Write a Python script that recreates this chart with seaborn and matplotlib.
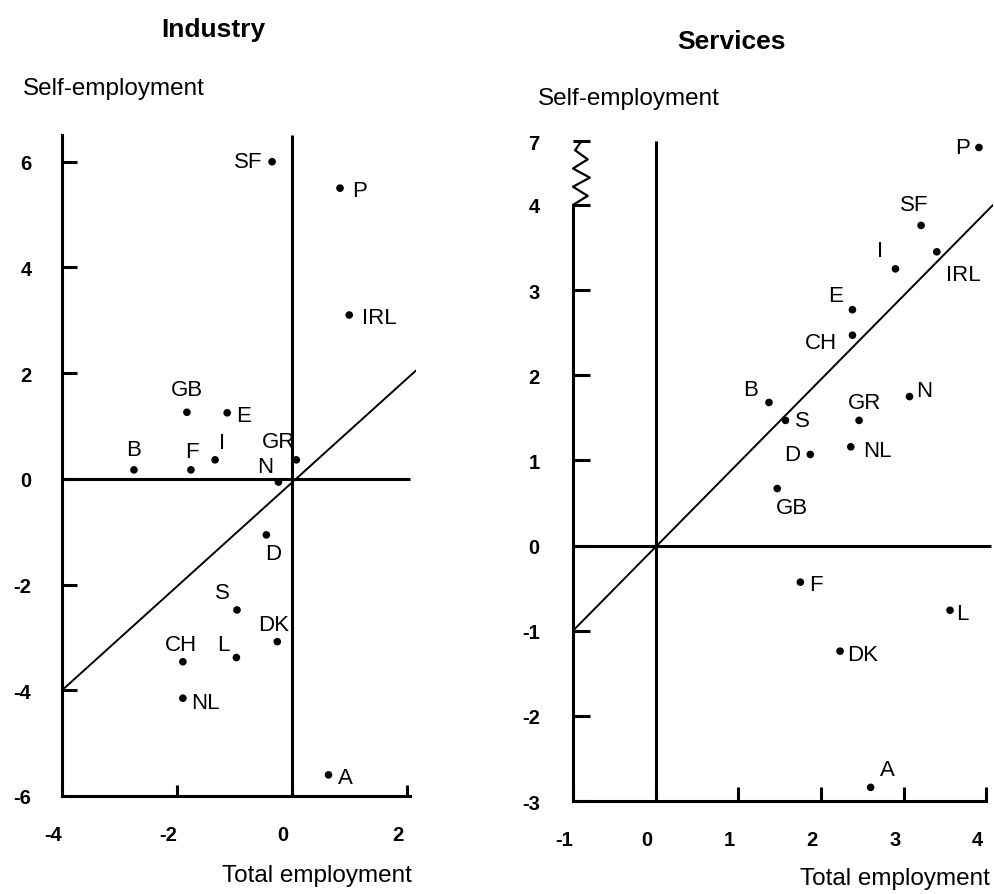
import numpy as np
import pandas as pd
import matplotlib
matplotlib.use("Agg")
import matplotlib.pyplot as plt
import seaborn as sns
from matplotlib.transforms import ScaledTranslation

# ---------------- data ----------------
ind_countries = ["SF", "P", "IRL", "GB", "E", "B", "F", "I", "GR", "N",
                 "D", "S", "DK", "CH", "L", "NL", "A"]
ind_total = [-0.35, 0.83, 0.99, -1.83, -1.13, -2.75, -1.76, -1.34, 0.07, -0.24,
             -0.45, -0.96, -0.26, -1.90, -0.97, -1.90, 0.63]
ind_self = [6.00, 5.50, 3.10, 1.26, 1.25, 0.17, 0.17, 0.36, 0.36, -0.06,
            -1.06, -2.48, -3.08, -3.46, -3.38, -4.15, -5.60]

srv_countries = ["P", "SF", "IRL", "I", "E", "CH", "B", "S", "GR", "N",
                 "NL", "D", "GB", "F", "L", "DK", "A"]
srv_total = [3.91, 3.21, 3.40, 2.90, 2.38, 2.38, 1.37, 1.57, 2.46, 3.07,
             2.36, 1.87, 1.47, 1.75, 3.56, 2.23, 2.60]
srv_self = [6.70, 3.76, 3.45, 3.25, 2.77, 2.47, 1.68, 1.47, 1.47, 1.75,
            1.16, 1.07, 0.67, -0.43, -0.76, -1.24, -2.84]

ind_xticks = [-4, -2, 0, 2]
ind_yticks = [-6, -4, -2, 0, 2, 4, 6]
srv_xticks = [-1, 0, 1, 2, 3, 4]
srv_yticks = [-3, -2, -1, 0, 1, 2, 3, 4, 7]

# label offsets (pixels) and alignment
ind_lab = {
    "SF": (-10, 0, "right", "center"), "P": (12, -2, "left", "center"),
    "IRL": (13, -3, "left", "center"), "GB": (0, 12, "center", "bottom"),
    "E": (9, -3, "left", "center"), "B": (0, 10, "center", "bottom"),
    "F": (1, 8, "center", "bottom"), "I": (7, 7, "center", "bottom"),
    "GR": (-18, 8, "center", "bottom"), "N": (-13, 5, "center", "bottom"),
    "D": (7, -8, "center", "top"), "S": (-15, 7, "center", "bottom"),
    "DK": (-4, 7, "center", "bottom"), "CH": (-2, 7, "center", "bottom"),
    "L": (-13, 3, "center", "bottom"), "NL": (8, -4, "left", "center"),
    "A": (9, -3, "left", "center"),
}
srv_lab = {
    "P": (-9, 0, "right", "center"), "SF": (-7, 10, "center", "bottom"),
    "IRL": (9, -23, "left", "center"), "I": (-15, 8, "center", "bottom"),
    "E": (-17, 4, "center", "bottom"), "CH": (-15, -7, "right", "center"),
    "B": (-18, 3, "center", "bottom"), "S": (9, 0, "left", "center"),
    "GR": (5, 7, "center", "bottom"), "N": (7, 6, "left", "center"),
    "NL": (12, -4, "left", "center"), "D": (-10, 0, "right", "center"),
    "GB": (15, -8, "center", "top"), "F": (9, -2, "left", "center"),
    "L": (6, -3, "left", "center"), "DK": (7, -3, "left", "center"),
    "A": (17, 7, "center", "bottom"),
}

# ---------------- style ----------------
sns.set_style("white")
plt.rcParams["font.family"] = ["Liberation Sans", "DejaVu Sans"]
plt.rcParams["axes.unicode_minus"] = False
for key in ["text.color", "axes.labelcolor", "xtick.color", "ytick.color",
            "axes.edgecolor"]:
    plt.rcParams[key] = "black"

W, H = 994, 895
fig = plt.figure(figsize=(W / 100, H / 100), dpi=100)

LW = 2.2
TICKFS = 14.5
LABFS = 16


def frame(ax, xlo, xhi, ylo, yhi):
    for s in ["top", "right"]:
        ax.spines[s].set_visible(False)
    for s in ["left", "bottom"]:
        ax.spines[s].set_linewidth(LW)
        ax.spines[s].set_color("black")
    ax.spines["left"].set_bounds(ylo, yhi)
    ax.spines["bottom"].set_bounds(xlo, xhi)


def shift_xlabels(ax, dx_px):
    off = ScaledTranslation(dx_px / 100.0, 0, fig.dpi_scale_trans)
    for t in ax.xaxis.get_major_ticks():
        t.label1.set_transform(t.label1.get_transform() + off)


# ---------------- Industry ----------------
ax1 = fig.add_axes([62 / W, 1 - 797 / H, 354 / W, 666 / H])
df1 = pd.DataFrame({"total": ind_total, "self": ind_self, "c": ind_countries})
sns.scatterplot(data=df1, x="total", y="self", ax=ax1, color="black", s=30,
                edgecolor="none", legend=False, zorder=5)
ax1.set_xlim(-4, 2.15)
ax1.set_ylim(-6, 6.6)
frame(ax1, -4, 2.05, -6, 6.5)
ax1.plot([-4, 2.05], [0, 0], color="black", lw=LW, solid_capstyle="butt")
ax1.plot([0, 0], [-6, 6.5], color="black", lw=LW, solid_capstyle="butt")
ax1.plot([-4, 2.15], [-4, 2.05], color="black", lw=1.4)
ax1.set_xticks(ind_xticks)
ax1.set_yticks(ind_yticks)
ax1.set_xticklabels([str(v) for v in ind_xticks], fontweight="bold", fontsize=TICKFS)
ax1.set_yticklabels([str(v) for v in ind_yticks], fontweight="bold", fontsize=TICKFS)
ax1.tick_params(axis="y", direction="in", length=11, width=LW, pad=22, left=True)
ax1.tick_params(axis="x", direction="in", length=8, width=LW, pad=21, bottom=True)
ax1.set_xlabel("")
ax1.set_ylabel("")
shift_xlabels(ax1, -9)
for c, x, y in zip(ind_countries, ind_total, ind_self):
    dx, dy, ha, va = ind_lab[c]
    ax1.annotate(c, (x, y), xytext=(dx, dy), textcoords="offset pixels",
                 ha=ha, va=va, fontsize=LABFS)

# ---------------- Services ----------------
K = 0.25  # compression above the axis break


def fwd(y):
    y = np.asarray(y, dtype=float)
    return np.where(y <= 4, y, 4 + (y - 4) * K)


def inv(y):
    y = np.asarray(y, dtype=float)
    return np.where(y <= 4, y, 4 + (y - 4) / K)


ax2 = fig.add_axes([573 / W, 1 - 802 / H, 420 / W, 668.4 / H])
ax2.set_yscale("function", functions=(fwd, inv))
df2 = pd.DataFrame({"total": srv_total, "self": srv_self, "c": srv_countries})
sns.scatterplot(data=df2, x="total", y="self", ax=ax2, color="black", s=30,
                edgecolor="none", legend=False, zorder=5)
ax2.set_xlim(-1, 4.08)
ax2.set_ylim(-3, float(inv(4.85)))
frame(ax2, -1, 4.0, -3, 4)
ax2.plot([-1, 4.06], [0, 0], color="black", lw=LW, solid_capstyle="butt")
ax2.plot([0, 0], [-3, 7], color="black", lw=LW, solid_capstyle="butt")
ax2.plot([-1, 4.08], [-1, 4.0], color="black", lw=1.4)
ax2.set_yscale("function", functions=(fwd, inv))
ax2.set_ylim(-3, float(inv(4.85)))
ax2.set_xticks(srv_xticks)
ax2.set_yticks(srv_yticks)
ax2.set_xticklabels([str(v) for v in srv_xticks], fontweight="bold", fontsize=TICKFS)
ax2.set_yticklabels([str(v) for v in srv_yticks], fontweight="bold", fontsize=TICKFS)
ax2.yaxis.set_minor_locator(matplotlib.ticker.NullLocator())
ax2.tick_params(axis="y", direction="in", length=12, width=LW, pad=24, left=True)
ax2.tick_params(axis="x", direction="in", length=10, width=LW, pad=21, bottom=True)
ax2.set_xlabel("")
ax2.set_ylabel("")
shift_xlabels(ax2, -9)

# axis break zig-zag between 4 and 7
zz_y = np.linspace(4, 7, 8)
zz_x = [0.0, 0.035, 0.0, 0.04, 0.0, 0.035, 0.005, 0.02]
ax2.plot(zz_x, zz_y, transform=ax2.get_yaxis_transform(), color="black",
         lw=1.6, clip_on=False)

for c, x, y in zip(srv_countries, srv_total, srv_self):
    dx, dy, ha, va = srv_lab[c]
    ax2.annotate(c, (x, y), xytext=(dx, dy), textcoords="offset pixels",
                 ha=ha, va=va, fontsize=LABFS)

# ---------------- titles & axis labels ----------------
fig.text(213 / W, 1 - 30 / H, "Industry", ha="center", va="center",
         fontsize=19, fontweight="bold")
fig.text(731 / W, 1 - 42 / H, "Services", ha="center", va="center",
         fontsize=19, fontweight="bold")
fig.text(23 / W, 1 - 95 / H, "Self-employment", ha="left", va="baseline",
         fontsize=17.5)
fig.text(538 / W, 1 - 105 / H, "Self-employment", ha="left", va="baseline",
         fontsize=17.5)
fig.text(412 / W, 1 - 882 / H, "Total employment", ha="right", va="baseline",
         fontsize=17.5)
fig.text(990 / W, 1 - 885 / H, "Total employment", ha="right", va="baseline",
         fontsize=17.5)

fig.savefig("out.png", dpi=100)
